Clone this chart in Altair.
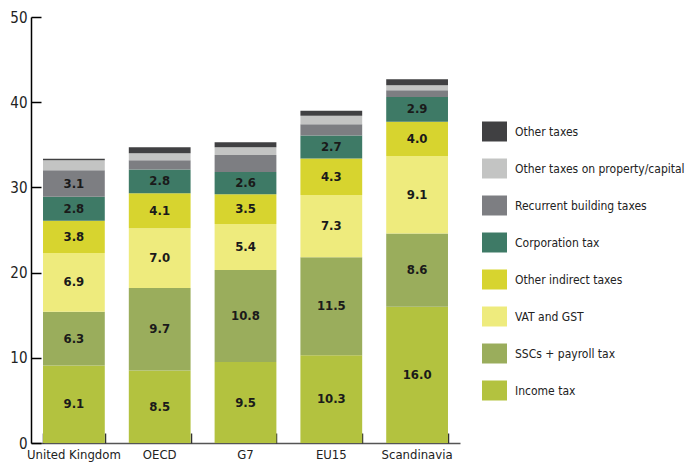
import altair as alt
import pandas as pd

countries = ["United Kingdom", "OECD", "G7", "EU15", "Scandinavia"]
categories = ["Income tax", "SSCs + payroll tax", "VAT and GST", "Other indirect taxes",
              "Corporation tax", "Recurrent building taxes", "Other taxes on property/capital", "Other taxes"]
colors = ["#b3c23f", "#9aad5c", "#eeeb7d", "#d7d42f", "#3e7a66", "#7d7e82", "#c3c4c3", "#404042"]

income = [9.1, 8.5, 9.5, 10.3, 16.0]
sscs = [6.3, 9.7, 10.8, 11.5, 8.6]
vat = [6.9, 7.0, 5.4, 7.3, 9.1]
other_indirect = [3.8, 4.1, 3.5, 4.3, 4.0]
corporation = [2.8, 2.8, 2.6, 2.7, 2.9]
recurrent = [3.1, 1.1, 2.0, 1.3, 0.8]
property_capital = [1.2, 0.8, 0.9, 1.0, 0.6]
other_taxes = [0.15, 0.7, 0.6, 0.6, 0.7]

series = [income, sscs, vat, other_indirect, corporation, recurrent, property_capital, other_taxes]

rows = []
for ci, cat in enumerate(categories):
    for ki, c in enumerate(countries):
        v = series[ci][ki]
        rows.append({"country": c, "category": cat, "idx": ci, "value": v,
                     "label": f"{v:.1f}" if v >= 2.5 else ""})
df = pd.DataFrame(rows)

FONT = "Liberation Sans Narrow, DejaVu Sans Condensed, Arial Narrow, sans-serif"
W, H = 429, 426

legend_domain = list(reversed(categories))
legend_range = list(reversed(colors))

xscale = alt.Scale(domain=countries, paddingInner=0.28, paddingOuter=0.14)
yscale = alt.Scale(domain=[0, 50], nice=False)

base = alt.Chart(df)

bars = base.mark_bar().encode(
    x=alt.X("country:N", sort=countries, scale=xscale, title=None,
            axis=alt.Axis(orient="bottom", ticks=False, labelAngle=0, labelFont=FONT,
                          labelFontSize=13, labelColor="#222", labelPadding=5,
                          domainColor="#555", domainWidth=1.5)),
    y=alt.Y("value:Q", stack="zero", scale=yscale, title=None,
            axis=alt.Axis(orient="left", values=[0, 10, 20, 30, 40, 50], ticks=False, grid=False,
                          labelFont=FONT, labelFontSize=15, labelColor="#222", labelPadding=4,
                          domainColor="#000", domainWidth=1.5)),
    color=alt.Color("category:N", scale=alt.Scale(domain=legend_domain, range=legend_range),
                    legend=alt.Legend(title=None, orient="none", legendX=451, legendY=102,
                                      symbolType="M-1,-0.8L1,-0.8L1,0.8L-1,0.8Z",
                                      symbolSize=625, symbolStrokeWidth=0, symbolOpacity=1,
                                      labelFont=FONT, labelFontSize=12, labelColor="#222",
                                      labelOffset=8, rowPadding=14, labelLimit=250)),
    order=alt.Order("idx:Q", sort="ascending"),
)

text = base.transform_filter("datum.label != ''").transform_stack(
    stack="value", groupby=["country"], as_=["v0", "v1"],
    sort=[alt.SortField("idx", order="ascending")]
).transform_calculate(mid="(datum.v0 + datum.v1) / 2").mark_text(
    font=FONT, fontSize=13, fontWeight="bold", color="#1a1a1a"
).encode(
    x=alt.X("country:N", sort=countries, scale=xscale, axis=None),
    y=alt.Y("mid:Q", scale=yscale, axis=None),
    text="label:N",
)

ticks_layer = base.mark_point(opacity=0).encode(
    x=alt.X("country:N", sort=countries, scale=xscale, title=None,
            axis=alt.Axis(orient="top", offset=-H, labels=False, domain=False, tickBand="extent",
                          tickSize=10, tickColor="#333", tickWidth=1.5)),
    y=alt.Y("value:Q", scale=yscale, title=None,
            axis=alt.Axis(orient="right", offset=-W, labels=False, domain=False, grid=False,
                          values=[0, 10, 20, 30, 40, 50], tickSize=10, tickColor="#000", tickWidth=1.5)),
)

chart = alt.layer(bars, text, ticks_layer).resolve_axis(x="independent", y="independent").properties(
    width=W, height=H, autosize=alt.AutoSizeParams(type="none"),
    padding={"left": 23, "top": 9, "right": 231, "bottom": 22},
).configure_view(stroke=None)

chart.save("out.html", embed_options={"renderer": "svg", "actions": False})
